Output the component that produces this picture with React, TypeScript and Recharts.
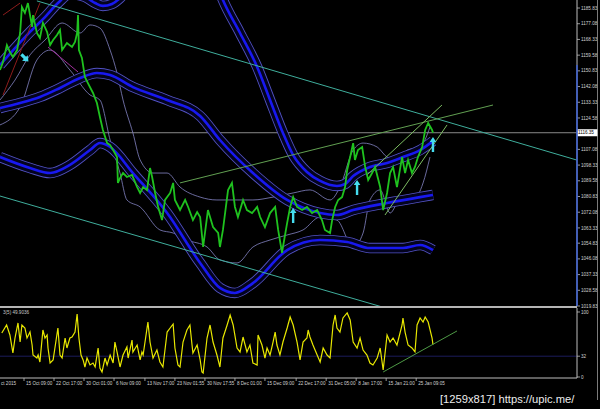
import { ComposedChart, Line, Scatter, XAxis, YAxis, ReferenceLine } from "recharts";

// bar index on x (about 3px per bar), price on y
const priceBars = [0,1,2.3,3.3,4.3,5.7,6.7,7.3,8.3,9.3,10.7,11,12.3,13.3,14.3,15.7,16.7,17.7,19,20,20.7,22.3,24,25,25.7,26,26.3,27.3,28.3,29.3,31,32.3,33.3,34.3,35.7,36.7,37.7,39,39.3,40,41,42.3,44,45.7,46.7,47.7,49,50,50.7,51.7,52.7,54,55,56.7,57.7,58.3,60,61.7,62.7,64.3,65.7,66.7,67.7,69.3,71,72.7,73.3,74.3,76,77.3,78.3,79.3,81,82.3,84,85.7,86.7,88.3,90,91.7,92.7,94,94.3,95.7,96.7,97.7,99,100.7,102.3,104,105.7,107.3,108.3,110,110.7,111.7,112.7,114,115,115.7,116.7,117.7,118.3,119.3,120.7,121.7,122.7,124,125,126.7,127.7,129,130,131,132.3,134,135,136,137.3,138.3,139.3,140.7,141.7,142.7,144,144.3];
const priceVals = [1151.3,1155.8,1165.2,1161.3,1158.5,1162.4,1171.9,1186.4,1183.1,1188.6,1175.3,1181.9,1171.9,1169.1,1177.5,1172.5,1165.2,1168.0,1170.8,1173.6,1162.4,1166.3,1164.1,1166.9,1171.9,1181.9,1162.4,1158.0,1147.4,1144.0,1138.5,1132.9,1125.1,1117.9,1110.6,1109.5,1106.7,1102.8,1088.4,1091.1,1093.9,1091.7,1092.8,1086.1,1082.8,1086.1,1084.4,1096.7,1091.7,1082.8,1075.0,1067.7,1078.9,1082.8,1088.4,1078.9,1073.3,1078.9,1075.0,1067.7,1072.2,1069.4,1052.7,1073.3,1063.8,1060.5,1052.7,1062.2,1084.4,1088.4,1075.0,1069.4,1078.9,1073.3,1071.6,1075.0,1069.4,1063.8,1071.6,1075.0,1062.2,1049.4,1052.7,1066.1,1075.0,1080.5,1075.0,1073.3,1075.0,1071.6,1073.3,1067.7,1062.2,1060.5,1067.7,1075.0,1078.9,1080.5,1086.1,1095.6,1102.8,1110.6,1101.2,1106.7,1108.4,1097.3,1090.0,1093.9,1097.3,1086.1,1073.3,1082.8,1093.9,1097.3,1086.1,1102.8,1093.9,1101.2,1093.9,1097.3,1102.8,1108.4,1117.9,1121.8,1117.9,1116.35];
const lastPrice = 1116.35;

const upperBandBars = [0,5,10,15,19.3,23.3,28.3,31.7,34.3,37.3,40,46.7,56.7,66.7,71.7,74.3,80,85.7,90,94.3,97.7,102.3,106.7,112.3,115,117.7,123.3,129,134.3,140,144.3];
const upperBandVals = [1154.1,1163.5,1172.5,1180.8,1188.6,1193.6,1192.0,1188.6,1187.0,1188.1,1191.4,1207.0,1223.7,1215.4,1201.4,1190.3,1171.9,1153.0,1134.6,1116.2,1103.9,1094.5,1089.5,1086.7,1087.8,1092.2,1097.3,1099.5,1102.8,1106.7,1111.7];
const midBandBars = [0,6.7,13.3,20,26.7,32.3,36.7,44.3,55.7,66.7,73.3,84.3,95.7,106.7,112.3,117.7,129,140,144.3];
const midBandVals = [1130.1,1132.9,1136.3,1141.3,1146.8,1149.6,1148.5,1141.8,1134.6,1125.7,1112.3,1093.9,1078.9,1071.6,1070.5,1073.3,1077.2,1080.5,1081.7];
const lowBandBars = [0,10,16.7,23.3,30,33.3,36.7,44.3,55.7,66.7,73.3,78.3,84.3,95.7,106.7,115.7,123.3,134.3,140,144.3];
const lowBandVals = [1102.8,1096.7,1093.9,1098.4,1106.7,1110.6,1108.4,1093.9,1071.6,1043.8,1029.9,1027.1,1032.6,1051.0,1056.6,1055.5,1052.1,1052.1,1053.8,1051.0];

const bbUpBars = [0,5,10,15,20.7,26.7,30,33.3,36.7,39,41,44.3,46.7,51,55.7,60,66.7,72.3,79,84.3,91,97.7,103.3,110,113.3,117.7,121,125.7,129,132.3,135.7,140,143.3];
const bbUpVals = [1134.6,1145.7,1159.7,1168.0,1177.5,1171.9,1176.4,1174.7,1162.4,1149.6,1134.6,1116.2,1101.2,1093.9,1093.9,1086.1,1080.5,1078.9,1078.9,1078.9,1080.5,1082.8,1084.5,1078.9,1086.1,1106.7,1110.6,1108.4,1102.8,1101.2,1106.7,1108.4,1119.5];
const bbLowBars = [0,6.7,12.3,16.7,23.3,30,33.3,36.7,40,42.3,46.7,53.3,57.7,62.3,69,73.3,79,84.3,90,95.7,101,106.7,112.3,117.7,121,123.3,126.7,130,133.3,137.7,141,143.3];
const bbLowVals = [1120.7,1130.7,1156.9,1162.4,1151.3,1137.4,1134.6,1112.3,1093.9,1078.9,1075.0,1062.2,1060.5,1056.6,1052.7,1045.5,1043.8,1052.7,1056.6,1059.4,1062.2,1069.4,1067.7,1052.7,1060.5,1078.9,1084.5,1071.6,1078.9,1078.9,1088.4,1102.8];

// hand drawn trend lines: [bar1, price1, bar2, price2]
const tealUpper = [12.3, 1189.8, 192.3, 1101.1];
const tealLower = [0, 1081.1, 128, 1019.0];
const greenLong = [60, 1088.4, 164.3, 1131.8];
const greenSteepA = [122.3, 1092.8, 147.3, 1131.8];
const greenSteepB = [128.3, 1070.5, 149, 1120.7];
const redA = [1, 1137.4, 13.3, 1188.6];
const redB = [1, 1181.9, 6.7, 1188.6];
const magentaA = [16, 1164.1, 26, 1150.2];

const arrowBars = [8.3, 97.7, 119, 144.3];
const arrowVals = [1158.0, 1074.4, 1090.0, 1114.0];
const arrowDirs = ["downright", "up", "up", "up"];

const priceTicks = [1185.83,1177.08,1168.33,1159.58,1150.83,1142.08,1133.33,1124.58,1116.35,1107.08,1098.33,1089.58,1080.83,1072.08,1063.33,1054.83,1046.08,1037.33,1028.58,1019.83];

const oscBars = [0.6,2.2,3.3,4.3,5,6,6.7,7.3,8.3,9,10,10.7,11,12.3,12.7,13.3,14.3,15,15.7,16,16.7,17.7,18.3,19.3,20,20.7,21.7,22.3,23.3,24,25,25.7,26.3,27,27.7,28.3,29,30,31,31.7,32.7,33.3,34,35,35.7,36.7,37.7,38.3,39,40,41,42.3,42.7,44,44.3,45.7,46.7,47.3,47.7,49.3,50,51,52.3,53.3,54.3,55.7,56.7,57.7,58.3,59.3,60,61,62.3,63.3,64,64.3,65.7,66.7,67.3,67.7,69,70,71,72.3,73.3,74.3,75.7,76.7,77.7,79,80,81,82.3,83.3,84.3,85.7,86,87.3,88.3,89,90,91,91.7,92.3,93.3,94.3,95.7,96.7,97.7,99,100,101,102.3,102.7,103.3,104.3,105.7,106.7,107.7,109,110,111,111.7,112.3,113.3,114.3,115.7,116.7,117.7,119,120,121,122.3,123.3,124.3,125.7,126.7,127.7,129,130,131,132.3,134,134.3,135,136,137.3,138.3,139,140,141,141.7,142.7,144,144.3];
const oscVals = [67.7,80,64.6,36.9,60,83.1,53.8,80,75.4,60,69.2,49.2,33.8,29.2,33.8,23.1,72.3,60,64.6,44.6,21.5,26.2,44.6,75.4,33.8,29.2,60,44.6,60,61.5,69.2,97,60,33.8,26.2,15.4,29.2,18.5,21.5,15.4,44.6,13.8,7.7,29.2,18.5,33.8,21.5,53.8,38.5,15.4,33.8,46.2,29.2,56.9,38.5,49.2,26.2,38.5,33.8,84.6,53.8,29.2,41.5,23.1,15.4,69.2,75.4,81.5,44.6,18.5,15.4,53.8,72.3,80,49.2,36.9,49.2,26.2,7.7,6.2,60,80,53.8,33.8,15.4,60,80,95.4,80,44.6,38.5,61.5,38.5,49.2,21.5,18.5,64.6,49.2,29.2,44.6,33.8,53.8,69.2,49.2,33.8,53.8,75.4,92.3,80,53.8,26.2,53.8,60,72.3,61.5,49.2,33.8,23.1,44.6,33.8,29.2,80,95.4,75.4,69.2,90.8,98.5,87.7,53.8,44.6,60,41.5,33.8,21.5,18.5,29.2,44.6,10.8,64.6,53.8,60,49.2,80,90.8,69.2,49.2,44.6,38.5,80,90.8,84.6,92.3,84.6,60,49.9];
const oscTrend = [127.7, 7.7, 152.3, 70.8];
const oscLevel = 32;
const oscTicks = [100, 32, 0];
const oscLabel = "3(5) 49.9036";

const timeTicks = [0, 8, 18, 28, 38, 48.3, 58.3, 68.3, 78.3, 88.3, 98.7, 108.7, 118.7, 128.7, 138.7];
const timeLabels = ["ct 2015", "15 Oct 09:00", "22 Oct 17:00", "30 Oct 01:00", "6 Nov 09:00", "13 Nov 17:00", "23 Nov 01:55", "30 Nov 17:55", "8 Dec 01:00", "15 Dec 09:00", "22 Dec 17:00", "31 Dec 05:00", "8 Jan 17:00", "15 Jan 21:00", "25 Jan 09:05"];

const rows = (bars: number[], vals: number[]) => bars.map((b, i) => ({ bar: b, v: vals[i] }));
const seg = (s: number[]) => [{ bar: s[0], v: s[1] }, { bar: s[2], v: s[3] }];

const FONT = "Liberation Sans";
const AXIS = "#bdbdbd";
const X_DOMAIN = [0, 192.3];

function PriceTick(props: any) {
  const { x, y, payload } = props;
  const v = payload.value;
  if (v === lastPrice) {
    return (
      <g>
        <rect x={x - 4} y={y - 3.5} width={21} height={7} fill="#ffffff" />
        <text x={x - 3} y={y} dy="0.35em" fontSize={4.6} fontFamily={FONT} fill="#000">
          {v.toFixed(2)}
        </text>
      </g>
    );
  }
  return (
    <text x={x} y={y} dy="0.35em" fontSize={4.6} fontFamily={FONT} fill="#d2d2d2">
      {v.toFixed(2)}
    </text>
  );
}

function OscTick(props: any) {
  const { x, y, payload } = props;
  return (
    <text x={x} y={y} dy="0.35em" fontSize={4.6} fontFamily={FONT} fill="#d2d2d2">
      {payload.value}
    </text>
  );
}

function TimeTick(props: any) {
  const { x, y, payload } = props;
  const label = timeLabels[timeTicks.indexOf(payload.value)];
  return (
    <g>
      {payload.value > 0 && <line x1={x} x2={x} y1={y} y2={y + 3} stroke={AXIS} strokeWidth={0.8} />}
      <text x={payload.value > 0 ? x + 2 : x + 1} y={y + 7} fontSize={4.6} fontFamily={FONT} fill="#d2d2d2">
        {label}
      </text>
    </g>
  );
}

function Arrow(props: any) {
  const { cx, cy, payload } = props;
  const up = "0,0 3.3,5 1.2,5 1.2,15 -1.2,15 -1.2,5 -3.3,5";
  if (payload.dir === "up") {
    return <polygon points={up} transform={`translate(${cx},${cy})`} fill="#45dcef" />;
  }
  return (
    <polygon
      points="0,-5 4,0 1.6,0 1.6,5 -1.6,5 -1.6,0 -4,0"
      transform={`translate(${cx},${cy}) rotate(135)`}
      fill="#45dcef"
    />
  );
}

function band(key: string, data: { bar: number; v: number }[]) {
  return [
    <Line key={key + "o"} data={data} dataKey="v" type="monotone" stroke="#5252c4" strokeWidth={10.5} dot={false} activeDot={false} isAnimationActive={false} />,
    <Line key={key + "g"} data={data} dataKey="v" type="monotone" stroke="#03031e" strokeWidth={8.8} dot={false} activeDot={false} isAnimationActive={false} />,
    <Line key={key + "c"} data={data} dataKey="v" type="monotone" stroke="#1818f0" strokeWidth={2.6} dot={false} activeDot={false} isAnimationActive={false} />,
  ];
}

function trend(key: string, s: number[], color: string, w = 1) {
  return (
    <Line key={key} data={seg(s)} dataKey="v" type="linear" stroke={color} strokeWidth={w} dot={false} activeDot={false} isAnimationActive={false} />
  );
}

export default function App() {
  const price = rows(priceBars, priceVals);
  const arrows = arrowBars.map((b, i) => ({ bar: b, v: arrowVals[i], dir: arrowDirs[i] }));
  const osc = rows(oscBars, oscVals);

  return (
    <div style={{ position: "absolute", left: 0, top: 0, width: 600, height: 409, background: "#000", overflow: "hidden" }}>
      <div style={{ position: "absolute", left: 0, top: 306, width: 577, height: 2, background: "#b4b4b4" }} />

      <div style={{ position: "absolute", left: 0, top: 0 }}>
        <ComposedChart width={600} height={312} margin={{ top: 0, right: 0, bottom: 6, left: 0 }}>
          <XAxis type="number" dataKey="bar" domain={X_DOMAIN} allowDataOverflow hide />
          <YAxis
            orientation="right"
            width={23}
            domain={[1019.83, 1190.3]}
            allowDataOverflow
            ticks={priceTicks}
            interval={0}
            axisLine={{ stroke: AXIS }}
            tickLine={{ stroke: AXIS, strokeWidth: 0.8 }}
            tickSize={3}
            tickMargin={1}
            tick={(p: any) => <PriceTick {...p} />}
          />
          <ReferenceLine y={lastPrice} stroke="#8a8a8a" strokeWidth={1} />
          <Line data={rows(bbUpBars, bbUpVals)} dataKey="v" type="monotone" stroke="#8484c4" strokeWidth={0.8} dot={false} activeDot={false} isAnimationActive={false} />
          <Line data={rows(bbLowBars, bbLowVals)} dataKey="v" type="monotone" stroke="#8484c4" strokeWidth={0.8} dot={false} activeDot={false} isAnimationActive={false} />
          {band("up", rows(upperBandBars, upperBandVals))}
          {band("mid", rows(midBandBars, midBandVals))}
          {band("low", rows(lowBandBars, lowBandVals))}
          {trend("tu", tealUpper, "#3fae9c")}
          {trend("tl", tealLower, "#3fae9c")}
          {trend("gl", greenLong, "#62a052")}
          {trend("ga", greenSteepA, "#7cbc62")}
          {trend("gb", greenSteepB, "#7cbc62")}
          {trend("ra", redA, "#8e1c1c")}
          {trend("rb", redB, "#8e1c1c")}
          {trend("ma", magentaA, "#a0309c")}
          <Line data={price} dataKey="v" type="linear" stroke="#1fc21f" strokeWidth={1.8} dot={false} activeDot={false} isAnimationActive={false} />
          <Scatter data={arrows} dataKey="v" shape={(p: any) => <Arrow {...p} />} isAnimationActive={false} />
        </ComposedChart>
      </div>

      <div style={{ position: "absolute", left: 0, top: 308 }}>
        <ComposedChart width={600} height={100} margin={{ top: 0, right: 0, bottom: 0, left: 0 }}>
          <XAxis
            type="number"
            dataKey="bar"
            domain={X_DOMAIN}
            allowDataOverflow
            ticks={timeTicks}
            interval={0}
            height={30}
            axisLine={{ stroke: AXIS }}
            tickLine={false}
            tickSize={0}
            tickMargin={0}
            tick={(p: any) => <TimeTick {...p} />}
          />
          <YAxis
            orientation="right"
            width={23}
            domain={[-1.54, 106.15]}
            allowDataOverflow
            ticks={oscTicks}
            interval={0}
            axisLine={{ stroke: AXIS }}
            tickLine={{ stroke: AXIS, strokeWidth: 0.8 }}
            tickSize={3}
            tickMargin={1}
            tick={(p: any) => <OscTick {...p} />}
          />
          <ReferenceLine y={oscLevel} stroke="#1c1c5c" strokeWidth={1} />
          <Line data={osc} dataKey="v" type="linear" stroke="#e8e800" strokeWidth={1.2} dot={false} activeDot={false} isAnimationActive={false} />
          {trend("ot", oscTrend, "#4e9a46")}
        </ComposedChart>
      </div>

      <svg width={600} height={409} style={{ position: "absolute", left: 0, top: 0, pointerEvents: "none" }}>
        <line x1={577} x2={577} y1={65} y2={306} stroke="#3d5fcc" strokeWidth={1.6} />
        <line x1={597.5} x2={597.5} y1={0} y2={400} stroke="#9a9a9a" strokeWidth={0.8} />
        <text x={3} y={314} fontSize={4.6} fontFamily={FONT} fill="#c8c8c8">
          {oscLabel}
        </text>
        <text x={440} y={403} fontSize={11.2} fontFamily={FONT} fill="#ececec">
          [1259x817] https://upic.me/
        </text>
      </svg>
    </div>
  );
}
